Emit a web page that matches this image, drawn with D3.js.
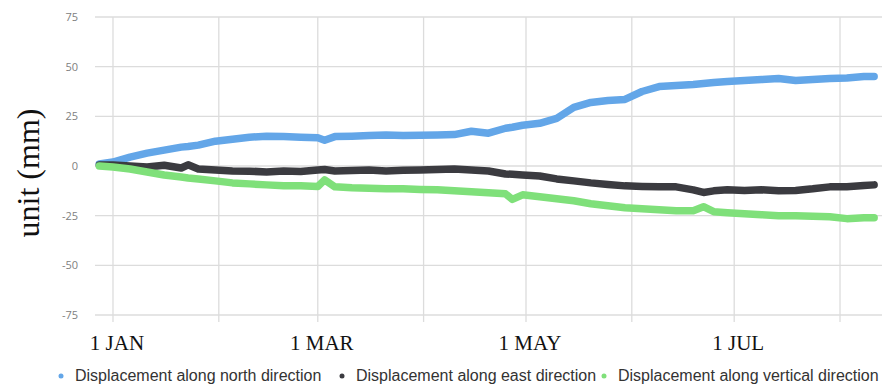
<!DOCTYPE html>
<html>
<head>
<meta charset="utf-8">
<script src="https://cdn.jsdelivr.net/npm/d3@7"></script>
<style>
  html, body { margin: 0; padding: 0; background: #fff; }
  svg { display: block; }
</style>
</head>
<body>
<svg id="chart" width="883" height="385"></svg>
<script>
// ---- data (days offset from 1 JAN 2020) ----
const days = [-4,0,5,10,15,20,22,25,30,35,40,45,50,55,60,62,65,70,75,80,85,90,95,100,105,110,115,117,120,125,130,135,140,145,150,155,160,165,170,173,176,180,185,190,195,200,205,210,215,220,223];
const north = [1.0,2.0,4.5,6.5,8.0,9.5,9.8,10.5,12.5,13.5,14.5,15.0,14.8,14.5,14.2,13.0,14.8,15.0,15.3,15.6,15.4,15.5,15.6,15.8,17.5,16.5,19.0,19.5,20.5,21.5,24.0,29.5,32.0,33.0,33.5,37.5,40.0,40.5,41.0,41.5,42.0,42.5,43.0,43.5,44.0,43.0,43.5,44.0,44.3,45.0,45.0];
const east = [0.5,0.5,0.0,-0.5,0.4,-1.0,0.6,-1.5,-2.0,-2.5,-2.6,-3.0,-2.5,-2.8,-2.0,-1.8,-2.5,-2.3,-2.0,-2.5,-2.2,-2.0,-1.8,-1.5,-2.0,-2.5,-4.0,-4.2,-4.5,-5.0,-6.5,-7.5,-8.5,-9.3,-10.0,-10.3,-10.5,-10.5,-12.0,-13.3,-12.5,-12.0,-12.3,-12.0,-12.5,-12.3,-11.5,-10.5,-10.5,-9.8,-9.5];
const vertical = [0.0,-0.5,-1.5,-3.0,-4.5,-5.5,-6.0,-6.5,-7.5,-8.5,-9.0,-9.5,-10.0,-10.0,-10.3,-7.0,-10.5,-11.0,-11.2,-11.5,-11.5,-11.8,-12.0,-12.5,-13.0,-13.5,-14.0,-16.8,-14.5,-15.5,-16.5,-17.5,-19.0,-20.0,-21.0,-21.5,-22.0,-22.5,-22.5,-20.5,-23.0,-23.5,-24.0,-24.5,-25.0,-25.0,-25.3,-25.5,-26.5,-26.0,-26.0];
const seriesNames = ["Displacement along north direction", "Displacement along east direction", "Displacement along vertical direction"];
const seriesColors = ["#63a6e8", "#3b3b40", "#7fe07a"];
const yTicks = [75, 50, 25, 0, -25, -50, -75];
const monthTicks = ["2020-01-01","2020-02-01","2020-03-01","2020-04-01","2020-05-01","2020-06-01","2020-07-01","2020-08-01"];
const monthLabels = {"2020-01-01":"1 JAN","2020-03-01":"1 MAR","2020-05-01":"1 MAY","2020-07-01":"1 JUL"};

// ---- layout ----
const svg = d3.select("#chart");
const plotLeft = 95, plotRight = 882, plotTop = 17, plotBottom = 315;
const dayMs = 86400000;
const t0 = Date.UTC(2020, 0, 1);
const toDate = d => new Date(t0 + d * dayMs);
const parse = d3.utcParse("%Y-%m-%d");

const x = d3.scaleUtc()
  .domain([new Date(t0 - 5.27 * dayMs), new Date(Date.UTC(2020, 7, 1) + 12.3 * dayMs)])
  .range([plotLeft, plotRight]);
const y = d3.scaleLinear().domain([-75, 75]).range([plotBottom, plotTop]);

// horizontal grid
svg.append("g").selectAll("line").data(yTicks).join("line")
  .attr("x1", plotLeft).attr("x2", plotRight)
  .attr("y1", d => y(d)).attr("y2", d => y(d))
  .attr("stroke", "#dcdcdc").attr("stroke-width", 1.3);

// vertical grid (monthly)
svg.append("g").selectAll("line").data(monthTicks).join("line")
  .attr("x1", d => x(parse(d))).attr("x2", d => x(parse(d)))
  .attr("y1", plotTop).attr("y2", plotBottom + 7)
  .attr("stroke", "#dcdcdc").attr("stroke-width", 1.3);

// y tick labels
svg.append("g").selectAll("text").data(yTicks).join("text")
  .attr("x", 78).attr("y", d => y(d)).attr("dy", "0.35em")
  .attr("text-anchor", "end")
  .attr("font-family", "'Open Sans', sans-serif").attr("font-size", 11)
  .attr("fill", "#808080")
  .text(d => d);

// x labels
svg.append("g").selectAll("text").data(monthTicks.filter(d => monthLabels[d])).join("text")
  .attr("x", d => x(parse(d)) + 4).attr("y", 350)
  .attr("text-anchor", "middle")
  .attr("font-family", "'Liberation Serif', 'Times New Roman', serif").attr("font-size", 21)
  .attr("fill", "#111")
  .text(d => monthLabels[d]);

// y axis title
svg.append("text")
  .attr("transform", "translate(39,173) rotate(-90)")
  .attr("text-anchor", "middle")
  .attr("font-family", "'Liberation Serif', 'Times New Roman', serif").attr("font-size", 32)
  .attr("fill", "#111")
  .text("unit (mm)");

// lines
const allSeries = [north, east, vertical];
const line = d3.line().x((d, i) => x(toDate(days[i]))).y(d => y(d)).curve(d3.curveLinear);
svg.append("g").selectAll("path").data(allSeries).join("path")
  .attr("d", d => line(d))
  .attr("fill", "none")
  .attr("stroke", (d, i) => seriesColors[i])
  .attr("stroke-width", 7.5)
  .attr("stroke-linejoin", "round")
  .attr("stroke-linecap", "round");

// legend
const legendX = [61, 342, 604];
const lg = svg.append("g");
seriesNames.forEach((name, i) => {
  lg.append("circle").attr("cx", legendX[i]).attr("cy", 376).attr("r", 2.5).attr("fill", seriesColors[i]);
  lg.append("text").attr("x", legendX[i] + 14).attr("y", 381)
    .attr("font-family", "'Liberation Sans', Arial, sans-serif").attr("font-size", 16)
    .attr("fill", "#333")
    .text(name);
});
</script>
</body>
</html>
